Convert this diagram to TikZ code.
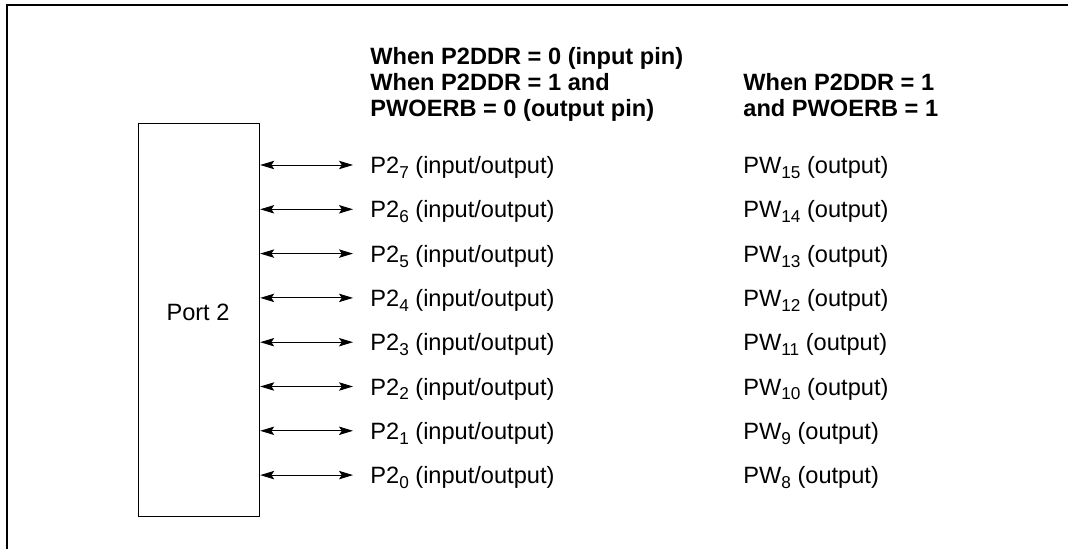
\documentclass[tikz,border=0pt]{standalone}
\usepackage{fontspec}
\setmainfont{Liberation Sans}
\usetikzlibrary{arrows.meta}
\newcommand{\pinsub}[1]{\raisebox{-0.4ex}{\fontsize{8.6}{10}\selectfont #1}}

\begin{document}
\begin{tikzpicture}[x=0.5pt,y=-0.5pt,
	  font=\fontsize{11.8}{14}\selectfont,
	  pin arrow/.style={{Stealth[length=7pt,width=4.2pt,inset=1.4pt]}-{Stealth[length=7pt,width=4.2pt,inset=1.4pt]},line width=0.45pt},
	  head/.style={anchor=base west,inner sep=0pt,font=\fontsize{11.8}{14}\selectfont\bfseries},
	  pin label/.style={anchor=base west,inner sep=0pt}]
	  \useasboundingbox (0,0) rectangle (1068,549);

	  % frame
	  \draw[line width=0.8pt] (7,549) -- (7,5) -- (1068,5);

	  \node[draw,line width=0.6pt,minimum width=60.5pt,minimum height=196.5pt,anchor=north west] (port) at (138,123) {};
	  \node[anchor=base] (portlabel) at (198,321) {Port 2};

	  % column heads
	  \node[head] (headleft1) at (370,65) {When P2DDR = 0 (input pin)};
	  \node[head] (headleft2) at (370,91) {When P2DDR = 1 and};
	  \node[head] (headleft3) at (370,117) {PWOERB = 0 (output pin)};
	  \node[head] (headright1) at (743,91) {When P2DDR = 1};
	  \node[head] (headright2) at (743,117) {and PWOERB = 1};

	  % pins
	  \foreach \i in {0,...,7}{
	    \pgfmathsetmacro{\ry}{165+(7-\i)*44.3}
	    \pgfmathtruncatemacro{\pw}{8+\i}
	    \coordinate (tip\i) at (353,\ry);
	    \node[pin label] (pin\i) at (370,\ry+8.5) {P2\pinsub{\i} (input/output)};
	    \node[pin label] (pw\i) at (743,\ry+8.5) {PW\pinsub{\pw} (output)};
	    \draw[pin arrow] (port.east |- tip\i) -- (tip\i);
	  }
\end{tikzpicture}
\end{document}
